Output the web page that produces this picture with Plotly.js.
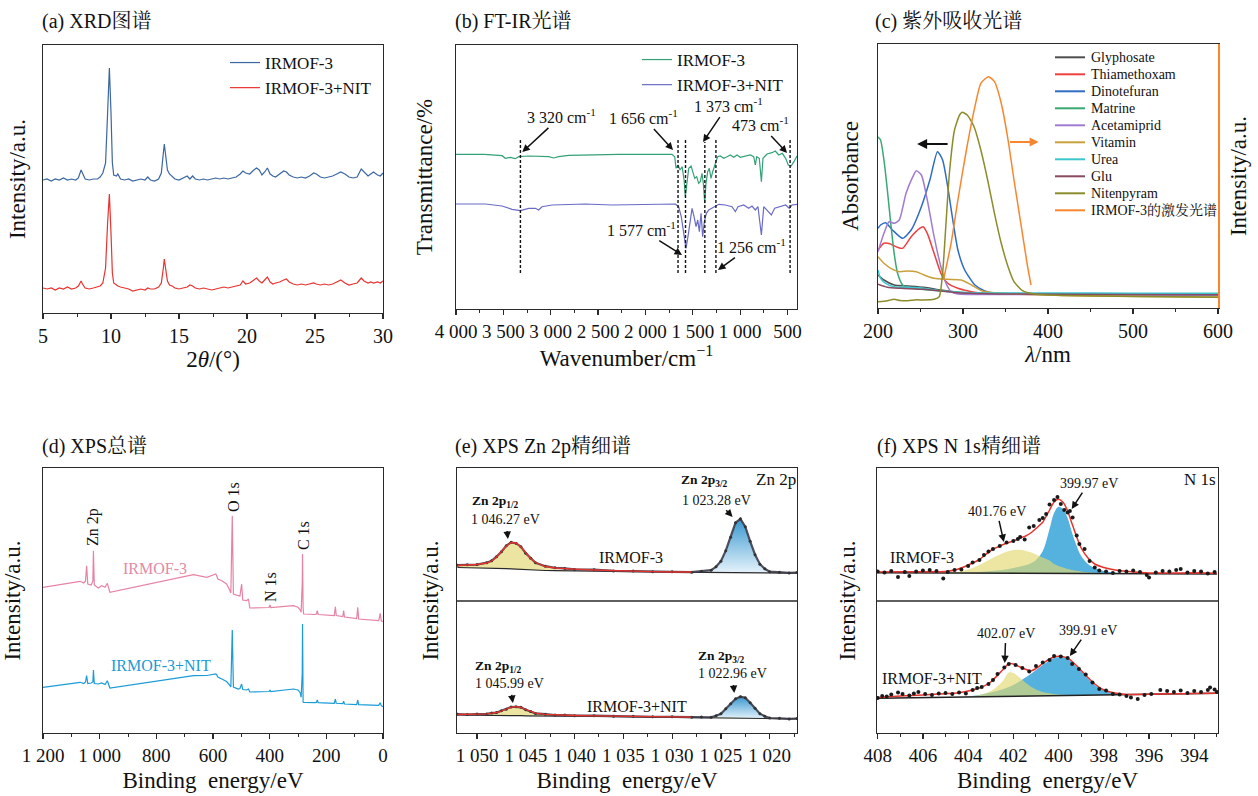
<!DOCTYPE html>
<html><head><meta charset="utf-8">
<script src="https://cdn.plot.ly/plotly-3.0.1.min.js"></script>
<style>html,body{margin:0;padding:0;background:#fff}#chart{width:1258px;height:796px}</style>
</head><body><div id="chart"></div>
<script>
// ---------- (a) XRD ----------
const xrdX = [5.0,5.3,5.6,5.9,6.2,6.5,6.8,7.1,7.4,7.6,7.8,7.9,8.1,8.4,8.7,9.0,9.2,9.4,9.6,9.75,9.88,10.0,10.1,10.2,10.4,10.5,10.7,11.0,11.3,11.6,11.9,12.2,12.5,12.7,12.9,13.2,13.5,13.7,13.85,13.92,14.0,14.15,14.3,14.5,14.7,15.0,15.3,15.6,15.8,16.0,16.2,16.5,16.8,17.1,17.4,17.7,18.0,18.3,18.6,18.9,19.2,19.5,19.7,19.9,20.2,20.5,20.7,20.9,21.1,21.3,21.5,21.7,21.9,22.1,22.4,22.7,22.9,23.1,23.4,23.7,24.0,24.3,24.6,24.9,25.1,25.4,25.7,26.0,26.3,26.6,26.9,27.2,27.5,27.8,28.1,28.4,28.6,28.9,29.1,29.3,29.6,29.8,30.0];
const xrdIrmof = [133,134,132,134,133,135,133,134,133,135,143,140,134,133,134,134,136,140,150,200,245,200,150,138,137,139,134,133,134,132,133,134,133,136,133,132,134,140,160,169,160,143,139,136,134,133,135,137,134,137,134,133,134,133,134,135,134,135,134,135,136,139,142,140,139,143,145,143,138,141,145,139,137,136,139,142,141,138,136,135,136,135,137,140,139,136,135,136,137,139,141,139,136,135,136,144,141,137,139,141,138,137,140];
const xrdNit = [25,24,25,23,25,24,26,24,25,27,32,29,25,24,25,26,27,30,45,90,119,80,40,30,28,27,26,25,24,22,23,24,23,25,24,24,26,30,45,54,46,32,28,27,25,24,25,26,28,27,25,24,25,24,23,24,25,26,25,26,27,28,32,29,30,33,35,32,30,33,36,31,29,30,31,33,34,31,29,28,29,28,29,30,29,28,29,28,29,31,33,30,28,29,30,35,32,30,31,30,31,30,32];

// ---------- (b) FT-IR ----------
const irGreenX = [4000,3700,3514,3479,3427,3374,3338,3232,3021,2969,2916,2810,2282,1720,1691,1677,1656,1635,1613,1592,1579,1561,1543,1518,1501,1480,1459,1438,1421,1403,1389,1374,1361,1343,1326,1308,1290,1273,1255,1238,1210,1174,1139,1104,1068,1033,999,946,893,857,840,825,798,776,759,717,664,629,593,555,520,492,463,432,400];
const irGreenY = [154.7,154.7,153.3,150.7,151.7,150.3,152.3,153,152.3,151,152.3,153.7,154.7,154.7,152.3,140.7,144,139,142.3,129,112.3,129,140.7,143,137.3,130.7,132.3,125.7,127.3,135.7,125.7,105.7,125.7,137.3,140.7,130.7,137.3,142.3,149,152.3,153,150.7,152.3,154,151.7,154,151.7,153,154,152.3,144,152.3,150.7,127.3,150.7,155,156.3,158,154,155.7,150.7,144,143,147.3,153];
const irPurpleX = [4000,3690,3514,3409,3321,3232,3162,3127,3092,2986,2635,2353,1685,1650,1622,1597,1572,1551,1529,1508,1487,1466,1448,1431,1413,1396,1378,1357,1332,1304,1262,1226,1157,1086,1051,1023,963,910,875,840,812,776,751,717,671,636,576,520,481,453,400];
const irPurpleY = [105,105,103,99.7,98.3,100.7,100.7,99,102.3,104,105,104,105,102.3,92.3,75.7,60.7,72.3,89,100.7,92.3,82.3,89,77.3,95.7,72.3,87.3,95.7,99,100.7,103,104.7,104,102.3,97.3,102.3,104,100.7,103,99,102.3,74,102.3,99,94,100.7,102.3,104,100.7,104,104.7];
const irMarks = [3320,1656,1577,1373,1256,473];
const irMarkLabels = ['3 320 cm<sup>-1</sup>','1 656 cm<sup>-1</sup>','1 577 cm<sup>-1</sup>','1 373 cm<sup>-1</sup>','1 256 cm<sup>-1</sup>','473 cm<sup>-1</sup>'];

// ---------- (c) UV ----------
const uvNames = ['Glyphosate','Thiamethoxam','Dinotefuran','Matrine','Acetamiprid','Vitamin','Urea','Glu','Nitenpyram','IRMOF-3的激发光谱'];
const uvColors = ['#4f4f4f','#ef3f3f','#2f6cc3','#3aa873','#a27bd1','#c9a03c','#3cc6cf','#8a4a62','#8c8c2c','#f7862e'];
const glyphosateX = [200,207,219,235,254,274,298,330,380,450,520,600];
const glyphosateY = [33,28,23,22,20.7,18,15.3,14.5,14.3,14.1,14,13.8];
const thiamethoxamX = [200,207,213,223,229,239,249,253,258,266,274,282,294,310,325,360,450,600];
const thiamethoxamY = [58,64.7,64.5,60.7,59.7,71.3,79.7,81.3,74.7,54.7,34.7,24.7,19.7,16.3,14.7,14,13.6,13.3];
const dinotefuranX = [200,203,209,217,229,239,251,261,270,276,282,288,294,302,314,325,337,360,450,600];
const dinotefuranY = [79.7,83,85.3,78,69.7,78,101.3,128,156.3,148,121.3,88,58,38,23,17.3,14.7,14,13.7,13.5];
const matrineX = [200,203,207,211,215,219,223,229,234.5,242,260,300,400,600];
const matrineY = [171,168,148,118,84.7,54.7,34.7,23,20.7,19.7,18,15.5,14,13];
const acetamipridX = [200,207,213,219,225,233,241,245,251,258,266,274,280,286,294,330,450,600];
const acetamipridY = [56.3,74.7,86.3,84.7,88,114.7,131.3,137.3,133,108,71.3,41.3,24.7,16.3,14,13.5,13.2,13];
const vitaminX = [200,207,215,225,235,245,254,266,282,298,310,322,337,380,450,600];
const vitaminY = [51.3,44.7,39.7,36.3,37,36.3,33,29.7,28.7,28,23,17.3,15.3,13.5,12,11];
const ureaX = [200,203,209,219,235,254,274,313,400,500,600];
const ureaY = [38,29.7,24.7,21.3,20.7,19.7,17.3,15.3,15,14.8,14.7];
const gluX = [200,211,227,254,294,350,450,600];
const gluY = [23.7,20.7,19.7,18.7,15.3,14,13.6,13.3];
const nitenpyramX = [200,211,219,226,235,245,254,266,272,276,280,284,290,296,299,305,313,321,329,337,345,353,360,370,384,420,500,600];
const nitenpyramY = [6.3,7.3,8.7,7.5,7.3,8.2,8,8.7,11.3,34.7,84.7,134.7,178,193,195.7,193,181.3,158,128,94.7,64.7,41.3,26.3,17.3,14,12.5,11.5,10.7];
const excitationX = [277,286,294,304,314,321,330,337,345,353,360,368,376,380];
const excitationY = [28,64.7,108,158,201.3,224.7,231.3,226.3,204.7,168,128,84.7,41.3,23];

// ---------- (d) XPS survey ----------
const surveyBE = [1200,1140,1069,1056,1050,1046,1042,1030,1024,1022,1019,1005,993,981,973,964,900,800,669,622,590,587,583,569,552,540,537,532,528,511,505,499,495,481,475,470,467,440,402,399,396,316,300,292,289,285,284,282,280,240,235,232,229,172,168,165,142,139,136,93,89,86,15,10,6,0];
const surveyIrmof = [145.7,148.3,151.7,150,152,167.3,149,148,152,182.3,148,145,147.3,145.7,149.7,140.7,144.5,150.5,158.3,155.7,159,157.3,154,152.3,149,142.3,140,217.3,139,137.3,137,149,133,132.3,134,125,125,125.5,125.5,128,125.5,127.3,125.7,123,120.7,150,179,125,119,118.5,119,122.3,118.5,117.5,126.3,117.5,116.5,122.3,116,114.5,125.7,114,112.5,119.7,112,111.7];
const surveyNit = [45.7,48,50.7,49.5,51,57.3,49.5,50,51,63,49.5,49,50,48.5,52.3,45,47.7,51.8,57.3,57.5,59,58.3,56,54,51.5,47.3,46,103,46,44,44.5,49,43.5,43,44,41,41,41.5,41.5,43,41.5,44,43,40,35.7,60,109,31,30.7,30.3,30.5,33,30.3,29.7,34,29.7,29.3,31.7,29,28.3,33,28.3,27.7,30.3,27.3,26.3];

// ---------- (e) XPS Zn 2p ----------
const znBE = [1052,1051,1050,1049,1048.5,1048,1047.5,1047,1046.5,1046,1045.5,1045,1044.5,1044,1043,1042,1041,1040,1038,1036,1034,1032,1030,1028,1027,1026,1025.5,1025,1024.5,1024,1023.5,1023,1022.5,1022,1021.5,1021,1020.5,1020,1019,1018,1017.2];
const znTopData = [167.8,168.2,168.4,170.3,172.2,176.3,181.2,187.3,190.7,189.8,186.3,179.8,174.8,170.3,166.8,165.2,164.6,163.6,163.3,162.1,161.9,161.2,161.2,160.8,161.7,162.8,166.2,171.8,182.3,195.7,210.3,214.2,206.3,191.7,178.3,168.8,164.2,161.3,160.7,160.1,160.5];
const znTopFit = [167.5,168,168.5,170,172,176,181.5,187,190.5,190,186,180,174.5,170.5,166.5,165,164.3,163.8,163,162.3,161.7,161.3,161,161,161.5,163,166,172,182,196,210,214.5,206,192,178,169,164,161.5,160.5,160.3,160.3];
const znTopBg = [165.5,165.4,165.3,165.1,165,164.8,164.6,164.4,164.1,163.8,163.5,163.2,163,162.8,162.5,162.3,162.1,162,161.7,161.4,161.2,161,160.8,160.7,160.6,160.6,160.5,160.5,160.4,160.4,160.3,160.3,160.2,160.2,160.1,160.1,160,160,159.9,159.8,159.8];
const znTopP12 = [167,167.5,168,169.5,171.7,175.8,181.3,186.8,190.3,189.8,185.7,179.6,174,170,165.8,163.6,162.6,162.1,161.7,161.4,161.2,161,160.8,160.7,160.6,160.6,160.5,160.5,160.4,160.4,160.3,160.3,160.2,160.2,160.1,160.1,160,160,159.9,159.8,159.8];
const znTopP32 = [165.5,165.4,165.3,165.1,165,164.8,164.6,164.4,164.1,163.8,163.5,163.2,163,162.8,162.5,162.3,162.1,162,161.7,161.4,161.2,161,160.8,160.7,161.2,162.8,165.8,171.8,181.8,195.8,209.8,214.3,205.8,191.8,177.8,168.8,163.8,161.3,160.2,159.8,159.8];
const znBotData = [18.8,18.4,18.9,19.1,20,20.4,22.3,23.8,26,26.2,25.7,23.3,21.5,19.6,18.8,17.9,17.9,17.3,17.3,16.7,16.7,16.2,16.2,15.7,16,15.7,17.2,19.3,24.2,29.3,34.2,36.3,35.2,30.3,24.7,19.3,16.7,15,14.7,14.1,14.5];
const znBotFit = [18.5,18.6,18.7,19.2,19.8,20.5,22,24,25.8,26.3,25.5,23.5,21.3,19.8,18.6,18,17.7,17.5,17.1,16.8,16.5,16.3,16,15.8,15.8,15.8,17,19.5,24,29.5,34,36.5,35,30.5,24.5,19.5,16.5,15.2,14.5,14.3,14.3];
const znBotBg = [18,18,17.9,17.9,17.8,17.8,17.7,17.6,17.5,17.4,17.3,17.2,17.1,17,16.9,16.8,16.7,16.6,16.5,16.3,16.1,16,15.8,15.6,15.5,15.4,15.4,15.3,15.3,15.2,15.2,15.1,15.1,15,15,14.8,14.7,14.6,14.4,14.2,14.1];
const znBotP12 = [18.3,18.4,18.5,19,19.6,20.3,21.8,23.8,25.6,26.1,25.3,23.3,21.1,19.6,18.3,17.5,17.1,16.8,16.5,16.3,16.1,16,15.8,15.6,15.5,15.4,15.4,15.3,15.3,15.2,15.2,15.1,15.1,15,15,14.8,14.7,14.6,14.4,14.2,14.1];
const znBotP32 = [18,18,17.9,17.9,17.8,17.8,17.7,17.6,17.5,17.4,17.3,17.2,17.1,17,16.9,16.8,16.7,16.6,16.5,16.3,16.1,16,15.8,15.7,15.7,15.7,16.9,19.4,23.9,29.4,33.9,36.4,34.9,30.4,24.4,19.4,16.4,15.1,14.4,14.2,14.1];

// ---------- (f) XPS N 1s ----------
const n1BE = [408,407,406,405,404.5,404,403.5,403,402.5,402.2,402,401.7,401.5,401.2,401,400.7,400.4,400.2,400,399.8,399.6,399.4,399.2,399,398.7,398.4,398,397.5,397,396,395,394,393];
const n1TopBg = [160.3,160.2,160.1,160,160,159.95,159.9,159.9,159.8,159.8,159.8,159.75,159.7,159.7,159.7,159.7,159.6,159.6,159.6,159.6,159.6,159.5,159.5,159.5,159.5,159.5,159.4,159.4,159.3,159.3,159.2,159.1,159];
const n1TopFit = [161,161.2,161.3,161.6,163.5,168,173.5,182.5,188,190.5,192,195,196.5,200.5,204.5,210.7,223,231,234,230.7,222,209,196,185,175,169,165.5,163,161.7,160,160,160.2,159.8];
const n1TopHigh = [160.3,160.2,160.2,160.3,161,163.5,168,174,179.5,182,183,183.3,182.5,180.5,178.5,175.5,172.5,169,167,165.5,164,163,162.2,161.5,160.7,160.2,159.6,159.4,159.3,159.3,159.2,159.1,159];
const n1TopLow = [160.3,160.2,160.1,160.1,160.2,160.5,161,162,163,164,165,166.5,167.5,170,173,182,204,220,226.3,224,215,200,187,177,169,165,162,160.5,159.8,159.4,159.2,159.1,159];
const n1TopDotX = [408.0,407.7,407.4,407.1,406.8,406.6,406.3,406.0,405.7,405.4,405.1,404.9,404.6,404.3,404.0,403.8,403.5,403.3,403.1,402.9,402.6,402.3,402.0,401.8,401.7,401.5,401.3,401.1,400.85,400.7,400.55,400.4,400.2,400.05,399.9,399.75,399.6,399.5,399.38,399.2,399.08,398.85,398.63,398.4,398.2,397.9,397.6,397.3,397.0,396.7,396.4,396.1,396.0,395.7,395.4,395.1,394.8,394.6,394.3,394.0,393.7,393.4,393.1];
const n1TopDotY = [161.5,160.5,162,156,161,157,161.5,162.5,163,162,154.5,161,163,163.5,167,170.5,173,178,181.5,184,187,190.5,192,194,196,193.5,205.5,207,213,215,219,228.5,233,236,229,223,220.5,222,215.5,197.5,189,184,172,165.5,162.5,161.5,160,162,161.5,162.5,161,158,155.5,160.5,162,161.5,163,164,160.5,162,161.5,159.5,161];
const n1BotBg = [34.7,35,35.4,35.7,35.9,36,36.2,36.4,36.5,36.6,36.7,36.8,36.9,37,37,37.1,37.2,37.3,37.4,37.4,37.5,37.6,37.6,37.7,37.8,37.9,38,38.2,38.4,38.7,39,39.4,39.7];
const n1BotFit = [35.5,37,38,39.3,40,42,45,51,62.5,69.5,69,66,64,62.3,64.5,69.5,74,76,76.7,76.3,75,71.5,67.3,62.5,55.5,49,43,40,38.6,38.8,39.2,39.5,39.8];
const n1BotHigh = [34.7,35,35.4,35.7,35.9,36.5,38,42,51,60.5,60,55,51,46,43.5,41,39.8,39,38.5,38.2,38,37.9,37.8,37.8,37.8,37.9,38,38.2,38.4,38.7,39,39.4,39.7];
const n1BotLow = [34.7,35,35.4,35.7,35.9,36.5,38,40.5,43.5,46,48,52,55,59.5,63,68,72.5,75,75.7,75.5,74,70.5,66,61.5,54.5,48,42.5,39.8,38.8,38.8,39,39.4,39.7];
const n1BotDotX = [408.0,407.8,407.6,407.4,407.1,406.9,406.6,406.4,406.2,405.9,405.6,405.3,405.0,404.7,404.4,404.1,403.8,403.6,403.4,403.1,402.9,402.7,402.4,402.2,401.9,401.6,401.3,401.0,400.7,400.4,400.2,399.9,399.6,399.4,399.1,398.8,398.5,398.2,397.9,397.6,397.3,397.0,396.8,396.5,396.2,395.9,395.5,395.2,394.9,394.6,394.3,394.0,393.7,393.4,393.3,393.1,393.0];
const n1BotDotY = [35,37,36.5,38.5,40.5,39,37.5,39.5,41,39,38,39.5,40,39,40.5,39.5,43,45,46,49,53,59,65.5,69,68,65,61.5,67,70.5,73,77,76.5,75,69,64,58.5,50.5,44,42.5,39,38.5,37,35.5,34,38,39,43,42,41,42.5,40,42,41,43,45.5,43.5,41];

// ================= drawing =================
const W = 1258, H = 796;
const FONT = "'Liberation Serif', 'Noto Serif CJK SC', 'Noto Sans CJK SC', serif";
const AX = '#2a2a2a';
const px = (a, b) => [a / W, b / W];
const py = (top, bot) => [1 - bot / H, 1 - top / H];
const F = (size, color) => ({family: FONT, size, color: color || '#111'});

function xAx(domain, anchor, range, dtick, minorDtick, title, standoff, extra) {
  return Object.assign({
    domain, anchor, range, autorange: false, showline: true, mirror: true, linecolor: AX, linewidth: 1.3,
    ticks: 'outside', ticklen: 5, tickwidth: 1.2, tickcolor: AX, dtick, tick0: 0,
    minor: {ticks: 'outside', ticklen: 3, tickwidth: 1, tickcolor: AX, dtick: minorDtick, tick0: 0},
    showgrid: false, zeroline: false, tickfont: F(19),
    title: {text: title, font: F(23), standoff}
  }, extra || {});
}
function yAx(domain, anchor, range, title, standoff, extra) {
  return Object.assign({
    domain, anchor, range, autorange: false, showline: true, mirror: true, linecolor: AX, linewidth: 1.3,
    ticks: '', showticklabels: false, showgrid: false, zeroline: false,
    title: {text: title, font: F(23), standoff}
  }, extra || {});
}

const traces = [];
const L = (x, y, color, width, ax, extra) => Object.assign({type: 'scatter', mode: 'lines', x, y, line: {color, width}, xaxis: ax[0], yaxis: ax[1], showlegend: false, hoverinfo: 'skip'}, extra || {});

// (a)
traces.push(L(xrdX, xrdIrmof, '#3b67a0', 1.2, ['x', 'y'], {name: 'IRMOF-3', showlegend: true, legend: 'legend'}));
traces.push(L(xrdX, xrdNit, '#e8332f', 1.2, ['x', 'y'], {name: 'IRMOF-3+NIT', showlegend: true, legend: 'legend'}));
// (b)
traces.push(L(irGreenX, irGreenY, '#34a176', 1.2, ['x2', 'y2'], {name: 'IRMOF-3', showlegend: true, legend: 'legend2'}));
traces.push(L(irPurpleX, irPurpleY, '#6a6bc6', 1.2, ['x2', 'y2'], {name: 'IRMOF-3+NIT', showlegend: true, legend: 'legend2'}));
// (c)
const uvX = [glyphosateX, thiamethoxamX, dinotefuranX, matrineX, acetamipridX, vitaminX, ureaX, gluX, nitenpyramX, excitationX];
const uvY = [glyphosateY, thiamethoxamY, dinotefuranY, matrineY, acetamipridY, vitaminY, ureaY, gluY, nitenpyramY, excitationY];
uvNames.forEach((n, i) => {
  const right = i === uvNames.length - 1;
  traces.push(L(uvX[i], uvY[i], uvColors[i], 1.5, ['x3', right ? 'y7' : 'y3'], {name: n, line: {color: uvColors[i], width: 1.5, shape: 'spline', smoothing: 0.6}}));
});
// (d)
traces.push(L(surveyBE, surveyIrmof, '#e683a3', 1.2, ['x4', 'y4'], {name: 'IRMOF-3'}));
traces.push(L(surveyBE, surveyNit, '#1b9bd7', 1.2, ['x4', 'y4'], {name: 'IRMOF-3+NIT'}));

// (e)
function znBlock(bg, p12, p32, data, fit) {
  const ax = ['x5', 'y5'];
  traces.push(L(znBE, bg, 'rgba(0,0,0,0)', 0, ax));
  traces.push(L(znBE, p32, 'rgba(0,0,0,0)', 0, ax, {fill: 'tonexty', fillcolor: '#7fbfe3',
    fillgradient: {type: 'vertical', colorscale: [[0, '#e6f3fb'], [1, '#3897d0']]}}));
  traces.push(L(znBE, bg, 'rgba(0,0,0,0)', 0, ax));
  traces.push(L(znBE, p12, 'rgba(0,0,0,0)', 0, ax, {fill: 'tonexty', fillcolor: 'rgba(228,220,130,0.75)'}));
  traces.push(L(znBE, bg, '#2a2a2a', 1.2, ax));
  traces.push({type: 'scatter', mode: 'lines+markers', x: znBE, y: data, xaxis: 'x5', yaxis: 'y5', showlegend: false, hoverinfo: 'skip',
    line: {color: 'rgba(60,60,75,0.9)', width: 2.2}, marker: {size: 3, color: '#333'}});
  traces.push(L(znBE.slice(0, 24), fit.slice(0, 24), '#e8322c', 1.3, ax));
}
znBlock(znTopBg, znTopP12, znTopP32, znTopData, znTopFit);
znBlock(znBotBg, znBotP12, znBotP32, znBotData, znBotFit);

// (f)
function n1Block(bg, high, low, fit, dx, dy) {
  const ax = ['x6', 'y6'];
  traces.push(L(n1BE, bg, 'rgba(0,0,0,0)', 0, ax));
  traces.push(L(n1BE, low, 'rgba(0,0,0,0)', 0, ax, {fill: 'tonexty', fillcolor: '#55b1dd', line: {color: 'rgba(0,0,0,0)', width: 0, shape: 'spline'}}));
  traces.push(L(n1BE, bg, 'rgba(0,0,0,0)', 0, ax));
  traces.push(L(n1BE, high, 'rgba(0,0,0,0)', 0, ax, {fill: 'tonexty', fillcolor: 'rgba(226,216,112,0.65)', line: {color: 'rgba(0,0,0,0)', width: 0, shape: 'spline'}}));
  traces.push(L(n1BE, bg, '#222', 1.4, ax));
  traces.push(L(n1BE, fit, '#e8322c', 1.5, ax, {line: {color: '#e8322c', width: 1.5, shape: 'spline', smoothing: 0.5}}));
  traces.push({type: 'scatter', mode: 'markers', x: dx, y: dy, xaxis: 'x6', yaxis: 'y6', showlegend: false, hoverinfo: 'skip',
    marker: {size: 4, color: '#1a1a1a'}});
}
n1Block(n1TopBg, n1TopHigh, n1TopLow, n1TopFit, n1TopDotX, n1TopDotY);
n1Block(n1BotBg, n1BotHigh, n1BotLow, n1BotFit, n1BotDotX, n1BotDotY);

// ---------- annotations ----------
const ann = [];
const T = (xref, yref, x, y, text, size, opts) => ann.push(Object.assign({xref, yref, x, y, text, showarrow: false, font: F(size || 16)}, opts || {}));
// label with arrow: arrow head at (x,y) in data, label centre offset (ax, ay) in pixels
const TA = (xref, yref, x, y, text, size, ax, ay, sso) => ann.push({xref, yref, x, y, ax, ay, text, font: F(size),
  showarrow: true, arrowhead: 2, arrowsize: 1, arrowwidth: 1.5, arrowcolor: '#111', standoff: 0, startstandoff: sso || 0, borderpad: 0});
const A = (xref, yref, x, y, ax, ay, color, w) => ann.push({xref, yref, x, y, ax, ay, text: '', font: F(10), showarrow: true, arrowhead: 2, arrowsize: 1, arrowwidth: w || 1.5, arrowcolor: color || '#111', standoff: 0, startstandoff: 0});

// panel titles
[['(a) XRD图谱', 40, 22], ['(b) FT-IR光谱', 453, 22], ['(c) 紫外吸收光谱', 873, 22],
 ['(d) XPS总谱', 40, 446], ['(e) XPS Zn 2p精细谱', 453, 446], ['(f) XPS N 1s精细谱', 875, 446]].forEach(t =>
  T('paper', 'paper', t[1] / W, 1 - t[2] / H, t[0], 20, {xanchor: 'left', yanchor: 'middle'}));

// (b) labels with arrows  [head wavenumber, head value, label dx, label dy]
const irArrows = [[3300, 157, 39, -36], [1709, 159, -30, -33], [1614, 54, -41, -26], [1392, 167, 25, -37], [1234, 39, 33, -24], [505, 156, -27, -29]];
irMarkLabels.forEach((t, i) => TA('x2', 'y2', irArrows[i][0], irArrows[i][1], t, 16, irArrows[i][2], irArrows[i][3], 2));

// (c) arrows + legend (entries built from uvNames / uvColors)
A('x3', 'y3', 246, 164, 32, 0, '#111', 2);
A('x3', 'y3', 389, 166, -30, 0, '#f7862e', 1.8);
const shapes = [];
uvNames.forEach((n, i) => {
  const yy = 1 - (57.3 + 17 * i) / H;
  shapes.push({type: 'line', xref: 'paper', yref: 'paper', x0: 1055 / W, x1: 1085 / W, y0: yy, y1: yy, line: {color: uvColors[i], width: 2}});
  T('paper', 'paper', 1089 / W, yy, n, 14, {xanchor: 'left', yanchor: 'middle'});
});

// (d) labels
T('x4', 'y4', 1023.5, 206, 'Zn 2p', 16, {textangle: -90});
T('x4', 'y4', 529, 236, 'O 1s', 16, {textangle: -90});
T('x4', 'y4', 399, 146, 'N 1s', 16, {textangle: -90});
T('x4', 'y4', 282, 197, 'C 1s', 16, {textangle: -90});
T('x4', 'y4', 805, 165, 'IRMOF-3', 16, {font: F(16, '#e38aa6')});
T('x4', 'y4', 784, 68, 'IRMOF-3+NIT', 16, {font: F(16, '#1a9ad7')});

// (e) labels
T('x5', 'y5', 1048.16, 232, '<b>Zn 2p<sub>1/2</sub></b>', 13.5);
TA('x5', 'y5', 1046.83, 194, '1 046.27 eV', 14, -2, -20, 4);
T('x5', 'y5', 1026.7, 253, '<b>Zn 2p<sub>3/2</sub></b>', 13.5);
TA('x5', 'y5', 1023.8, 216, '1 023.28 eV', 14, -16, -17, 3);
T('x5', 'y5', 1019.4, 254, 'Zn 2p', 17);
T('x5', 'y5', 1034.2, 175.5, 'IRMOF-3', 16);
T('x5', 'y5', 1047.86, 67, '<b>Zn 2p<sub>1/2</sub></b>', 13.5);
TA('x5', 'y5', 1046.32, 30, '1 045.99 eV', 14, -3, -20, 4);
T('x5', 'y5', 1024.95, 77, '<b>Zn 2p<sub>3/2</sub></b>', 13.5);
TA('x5', 'y5', 1023.63, 40, '1 022.96 eV', 14, -2, -20, 4);
T('x5', 'y5', 1033.65, 27, 'IRMOF-3+NIT', 16);

// (f) labels
T('x6', 'y6', 393.75, 254, 'N 1s', 17);
TA('x6', 'y6', 399.42, 224, '399.97 eV', 14, 17, -26, 2);
TA('x6', 'y6', 402.42, 191, '401.76 eV', 14, -7, -31, 2);
T('x6', 'y6', 406.05, 176, 'IRMOF-3', 16);
TA('x6', 'y6', 402.38, 70, '402.07 eV', 14, 1, -30, 2);
TA('x6', 'y6', 399.5, 77, '399.91 eV', 14, 18, -26, 2);
T('x6', 'y6', 405.6, 55, 'IRMOF-3+NIT', 16);

// (b) dashed marker lines
const irMarkTop = [171, 171, 171, 167, 171, 171];
irMarks.forEach((m, i) => shapes.push({type: 'line', xref: 'x2', yref: 'y2', x0: m, x1: m, y0: 36, y1: irMarkTop[i], line: {color: '#111', width: 1.4, dash: '3px,2px'}}));
// (e)/(f) dividers
['x5', 'x6'].forEach((xa, i) => shapes.push({type: 'line', xref: xa + ' domain', yref: i ? 'y6' : 'y5', x0: 0, x1: 1, y0: 132, y1: 132, line: {color: AX, width: 1.3}}));

const legendBase = {bgcolor: 'rgba(0,0,0,0)', borderwidth: 0, font: F(17), xanchor: 'left', yanchor: 'top', tracegroupgap: 0, traceorder: 'normal'};

const layout = {
  width: W, height: H, margin: {l: 0, r: 0, t: 0, b: 0}, paper_bgcolor: '#fff', plot_bgcolor: 'rgba(0,0,0,0)',
  separators: '. ', font: F(16), showlegend: true,
  legend: Object.assign({x: 225 / W, y: 1 - 45 / H}, legendBase),
  legend2: Object.assign({x: 637 / W, y: 1 - 42 / H}, legendBase),
  xaxis: xAx(px(43, 383), 'y', [5, 30], 5, 2.5, '2<i>θ</i>/(°)', 0, {tickfont: F(20)}),
  yaxis: yAx(py(45, 313), 'x', [0, 268], 'Intensity/a.u.', 9),
  xaxis2: xAx(px(456, 797), 'y2', [4000, 400], 500, 250, 'Wavenumber/cm<sup>−1</sup>', 2, {separatethousands: true}),
  yaxis2: yAx(py(45, 309), 'x2', [0, 264], 'Transmittance/%', 15),
  xaxis3: xAx(px(878, 1218), 'y3', [200, 600], 100, 50, '<i>λ</i>/nm', 2, {tickfont: F(20)}),
  yaxis3: yAx(py(44, 308), 'x3', [0, 264], 'Absorbance', 11, {mirror: false}),
  yaxis7: yAx(py(44, 308), 'x3', [0, 264], 'Intensity/a.u.', 11, {overlaying: 'y3', side: 'right', mirror: false, linecolor: '#f7862e', linewidth: 1.6}),
  xaxis4: xAx(px(43, 383), 'y4', [1200, 0], 200, 100, 'Binding  energy/eV', 6, {separatethousands: true}),
  yaxis4: yAx(py(468, 733), 'x4', [0, 265], 'Intensity/a.u.', 14),
  xaxis5: xAx(px(457, 797), 'y5', [1052.05, 1017.2], 5, 2.5, 'Binding  energy/eV', 6, {separatethousands: true}),
  yaxis5: yAx(py(468, 733), 'x5', [0, 265], 'Intensity/a.u.', 10),
  xaxis6: xAx(px(877, 1218), 'y6', [408.03, 392.95], 2, 1, 'Binding  energy/eV', 6),
  yaxis6: yAx(py(468, 733), 'x6', [0, 265], 'Intensity/a.u.', 13),
  annotations: ann, shapes
};

Plotly.newPlot('chart', traces, layout, {staticPlot: true, displayModeBar: false});
</script>
</body></html>
